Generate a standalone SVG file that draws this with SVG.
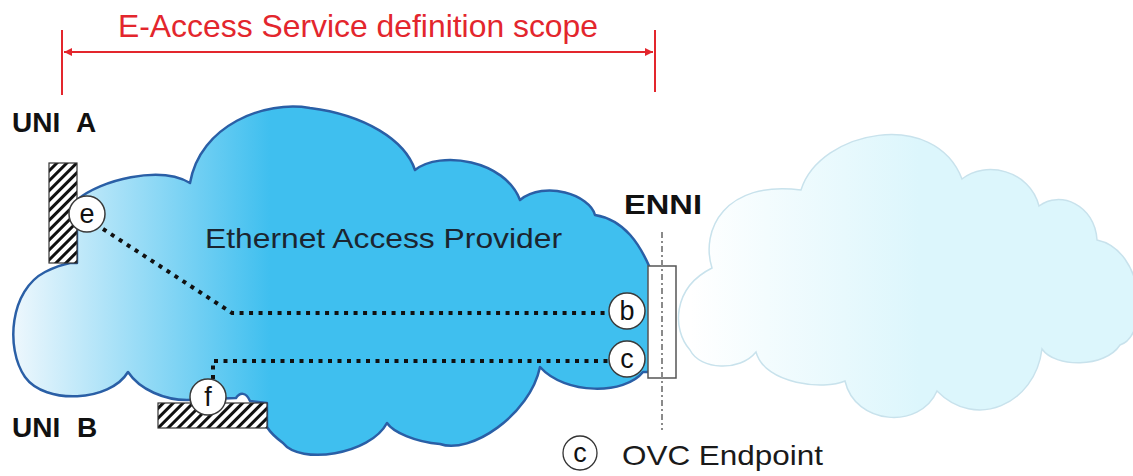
<svg xmlns="http://www.w3.org/2000/svg" width="1133" height="476" viewBox="0 0 1133 476">
  <defs>
    <linearGradient id="gBig" gradientUnits="userSpaceOnUse" x1="10" y1="0" x2="270" y2="0">
      <stop offset="0" stop-color="#f0f8fd"/>
      <stop offset="1" stop-color="#3fbfef"/>
    </linearGradient>
    <linearGradient id="gRight" gradientUnits="userSpaceOnUse" x1="690" y1="0" x2="920" y2="0">
      <stop offset="0" stop-color="#ffffff"/>
      <stop offset="1" stop-color="#dcf6fc"/>
    </linearGradient>
    <pattern id="hatch" patternUnits="userSpaceOnUse" width="7" height="7" patternTransform="rotate(45)">
      <rect x="0" y="0" width="7" height="7" fill="#ffffff"/>
      <rect x="0" y="0" width="3" height="7" fill="#111111"/>
    </pattern>
    <marker id="arrR" viewBox="0 0 10 10" refX="10" refY="5" markerWidth="10" markerHeight="8" markerUnits="userSpaceOnUse" orient="auto">
      <path d="M0,0 L10,5 L0,10 Z" fill="#e3262d"/>
    </marker>
    <marker id="arrL" viewBox="0 0 10 10" refX="0" refY="5" markerWidth="10" markerHeight="8" markerUnits="userSpaceOnUse" orient="auto">
      <path d="M10,0 L0,5 L10,10 Z" fill="#e3262d"/>
    </marker>
  </defs>
  <style>
    .lbl { font-family: "Liberation Sans", Arial, sans-serif; }
    .bold { font-family: "Liberation Sans", Arial, sans-serif; font-weight: bold; fill: #111; }
    .ep { fill: #ffffff; stroke: #3a3a3a; stroke-width: 1.5; }
    .eptxt { font-family: "Liberation Sans", Arial, sans-serif; font-size: 27px; fill: #111; text-anchor: middle; }
    .dot { fill: none; stroke: #111; stroke-width: 4; stroke-dasharray: 4 5.5; }
    .hatchbox { fill: url(#hatch); stroke: #333; stroke-width: 1.2; }
    .red { stroke: #e3262d; stroke-width: 2; fill: none; }
  </style>

  <!-- scope annotation -->
  <g id="scope">
    <text class="lbl" x="118" y="37" font-size="32" fill="#e3262d" textLength="480" lengthAdjust="spacingAndGlyphs">E-Access Service definition scope</text>
    <line class="red" x1="62" y1="30" x2="62" y2="95"/>
    <line class="red" x1="655" y1="30" x2="655" y2="92"/>
    <line class="red" x1="64" y1="52" x2="653" y2="52" marker-start="url(#arrL)" marker-end="url(#arrR)"/>
  </g>

  <!-- right (other operator) cloud -->
  <g id="other-cloud">
    <path d="M 756,352 C 740,372 700,370 690,350 C 672,330 672,288 712,268 C 700,230 725,180 801,190 C 820,130 935,108 962,179 C 985,160 1030,170 1039,206 C 1060,190 1095,205 1097,240 C 1145,250 1150,335 1120,345 C 1105,368 1055,368 1042,349 C 1035,405 975,430 937,391 C 920,430 855,425 845,381 C 825,390 765,385 756,352 Z" fill="url(#gRight)" stroke="#c8e2ec" stroke-width="1.5"/>
  </g>

  <!-- Ethernet Access Provider cloud -->
  <g id="eap-cloud">
    <path d="M 77,200 C 100,180 160,165 190,183 C 200,125 265,100 310,108 C 365,115 405,140 415,170 C 440,150 505,160 520,200 C 545,180 590,195 595,215 C 625,220 640,245 650,268 L 650,372 L 643,372 C 625,395 565,395 540,367 C 530,415 470,455 440,444 C 415,442 393,432 387,423 C 370,455 300,465 283,443 C 275,437 270,432 267,427 L 267,403 L 250,401 C 246,392 240,392 236,398 L 187,400 C 165,400 140,390 128,372 C 110,402 45,405 25,377 C 5,348 10,290 45,272 C 55,267 65,264 70,263 L 77,263 Z" fill="url(#gBig)" stroke="#2a5fa6" stroke-width="2.5" stroke-linejoin="round"/>
    <text class="lbl" x="205" y="248" font-size="28" fill="#1b2530" textLength="357" lengthAdjust="spacingAndGlyphs">Ethernet Access Provider</text>
  </g>

  <!-- connectors (OVC paths) -->
  <g id="connectors">
    <polyline class="dot" points="103,229 232,313 610,313"/>
    <polyline class="dot" points="213,379 213,361 610,361"/>
  </g>

  <!-- UNI A -->
  <g id="uni-a">
    <text class="bold" x="12" y="132" font-size="28" word-spacing="9">UNI A</text>
    <rect class="hatchbox" x="49" y="163" width="28" height="100"/>
  </g>

  <!-- UNI B -->
  <g id="uni-b">
    <text class="bold" x="12" y="437" font-size="28" word-spacing="9">UNI B</text>
    <rect class="hatchbox" x="158" y="403" width="109" height="25"/>
  </g>

  <!-- ENNI -->
  <g id="enni">
    <text class="bold" x="624" y="214" font-size="27" textLength="78" lengthAdjust="spacingAndGlyphs">ENNI</text>
    <rect x="648" y="266" width="28" height="112" fill="#ffffff" stroke="#555" stroke-width="1.5"/>
    <line x1="662" y1="232" x2="662" y2="430" stroke="#8a8a8a" stroke-width="2" stroke-dasharray="6 3 2 3"/>
  </g>

  <!-- OVC endpoints -->
  <g id="ep-e">
    <circle class="ep" cx="87" cy="214" r="18"/>
    <text class="eptxt" x="87" y="223">e</text>
  </g>
  <g id="ep-f">
    <circle class="ep" cx="208" cy="397" r="18"/>
    <text class="eptxt" x="208" y="406">f</text>
  </g>
  <g id="ep-b">
    <circle class="ep" cx="627" cy="311" r="18"/>
    <text class="eptxt" x="627" y="320">b</text>
  </g>
  <g id="ep-c">
    <circle class="ep" cx="627" cy="359" r="18"/>
    <text class="eptxt" x="627" y="368">c</text>
  </g>

  <!-- legend -->
  <g id="legend">
    <circle cx="580" cy="453" r="17" fill="#ffffff" stroke="#333" stroke-width="1.3"/>
    <text class="eptxt" x="580" y="462" font-size="25">c</text>
    <text class="lbl" x="622" y="465" font-size="28" fill="#1a1a1a" textLength="201" lengthAdjust="spacingAndGlyphs">OVC Endpoint</text>
  </g>
</svg>
